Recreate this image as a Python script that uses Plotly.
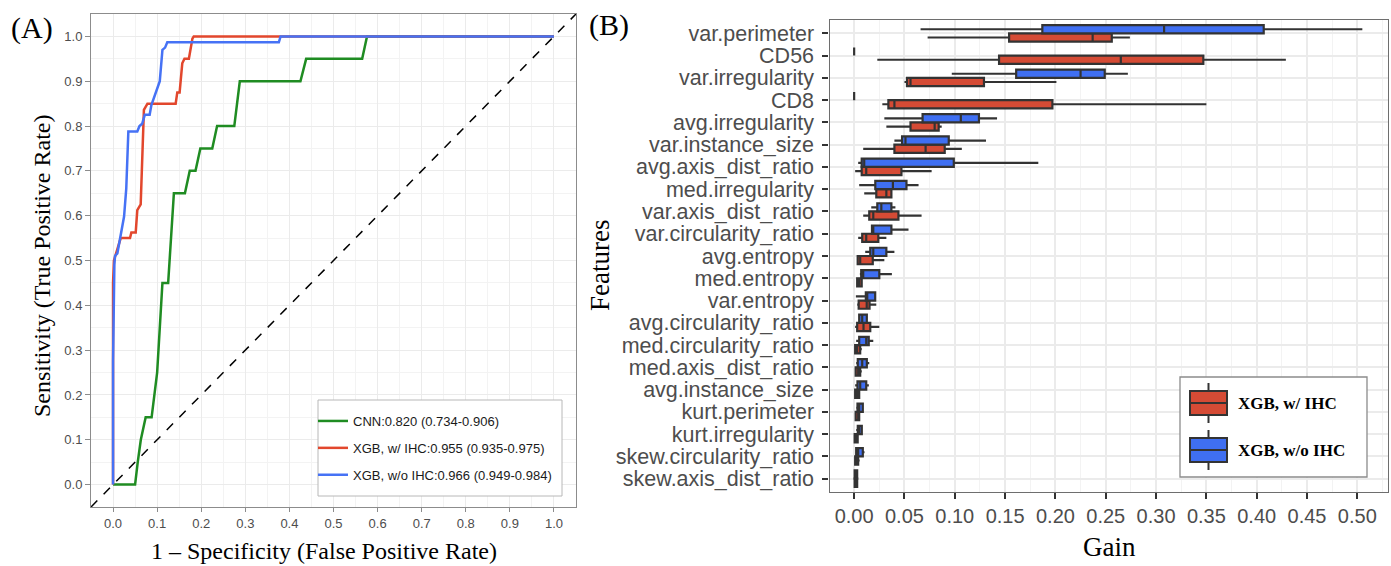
import plotly.graph_objects as go

W, H = 1391, 566

# ---------------- Panel A: ROC curves ----------------
diag = [-0.05, 1.05]

cnn_fpr = [0, 0.05, 0.056, 0.063, 0.074, 0.0875, 0.10, 0.112, 0.125, 0.138, 0.163, 0.174,
           0.187, 0.198, 0.225, 0.236, 0.275, 0.2875, 0.425, 0.438, 0.565, 0.576, 1.0]
cnn_tpr = [0, 0, 0.05, 0.10, 0.15, 0.15, 0.25, 0.45, 0.45, 0.65, 0.65, 0.70,
           0.70, 0.75, 0.75, 0.80, 0.80, 0.90, 0.90, 0.95, 0.95, 1.0, 1.0]

ihc_fpr = [0, 0, 0.002, 0.005, 0.0174, 0.0385, 0.0416, 0.0514, 0.055, 0.0627, 0.0665, 0.070,
           0.078, 0.142, 0.1457, 0.151, 0.157, 0.162, 0.172, 0.180, 0.183, 1.0]
ihc_tpr = [0, 0.45, 0.50, 0.51, 0.55, 0.55, 0.5625, 0.5625, 0.6125, 0.625, 0.75, 0.836,
           0.85, 0.85, 0.875, 0.875, 0.94, 0.95, 0.95, 0.995, 1.0, 1.0]

noihc_fpr = [0, 0, 0.003, 0.0045, 0.0098, 0.019, 0.025, 0.030, 0.0347, 0.055, 0.060, 0.066,
             0.072, 0.083, 0.087, 0.106, 0.112, 0.118, 0.123, 0.376, 0.380, 1.0]
noihc_tpr = [0, 0.275, 0.49, 0.51, 0.516, 0.564, 0.598, 0.661, 0.788, 0.788, 0.80, 0.805,
             0.825, 0.825, 0.847, 0.90, 0.97, 0.975, 0.987, 0.987, 1.0, 1.0]

roc_names = ["CNN:0.820 (0.734-0.906)",
             "XGB, w/ IHC:0.955 (0.935-0.975)",
             "XGB, w/o IHC:0.966 (0.949-0.984)"]

# ---------------- Panel B: feature gain boxplots ----------------
features = ["var.perimeter", "CD56", "var.irregularity", "CD8", "avg.irregularity",
            "var.instance_size", "avg.axis_dist_ratio", "med.irregularity",
            "var.axis_dist_ratio", "var.circularity_ratio", "avg.entropy", "med.entropy",
            "var.entropy", "avg.circularity_ratio", "med.circularity_ratio",
            "med.axis_dist_ratio", "avg.instance_size", "kurt.perimeter",
            "kurt.irregularity", "skew.circularity_ratio", "skew.axis_dist_ratio"]

# XGB, w/ IHC
ihc_low  = [0.073, 0.023, 0.050, 0.028, 0.032, 0.009, 0.001, 0.010, 0.009, 0.004, 0.003,
            0.002, 0.003, 0.001, 0.0003, 0.001, 0.001, 0.001, 0.0003, 0.0005, 0.0]
ihc_q1   = [0.154, 0.144, 0.0525, 0.034, 0.056, 0.040, 0.0075, 0.022, 0.015, 0.008, 0.0035,
            0.003, 0.0045, 0.003, 0.001, 0.0015, 0.001, 0.0015, 0.0005, 0.001, 0.0005]
ihc_med  = [0.237, 0.265, 0.056, 0.040, 0.080, 0.071, 0.012, 0.032, 0.019, 0.012, 0.006,
            0.005, 0.0125, 0.0093, 0.003, 0.004, 0.003, 0.004, 0.002, 0.002, 0.001]
ihc_q3   = [0.256, 0.347, 0.129, 0.197, 0.084, 0.090, 0.047, 0.037, 0.044, 0.024, 0.0185,
            0.0075, 0.0153, 0.016, 0.006, 0.006, 0.005, 0.005, 0.0035, 0.004, 0.003]
ihc_high = [0.274, 0.429, 0.201, 0.350, 0.087, 0.107, 0.077, 0.038, 0.067, 0.032, 0.030,
            0.0086, 0.022, 0.025, 0.0076, 0.0076, 0.006, 0.006, 0.0043, 0.0055, 0.0033]

# XGB, w/o IHC
noihc_low  = [0.066, 0.0, 0.097, 0.0, 0.030, 0.040, 0.004, 0.005, 0.017, 0.017, 0.011,
              0.0057, 0.0017, 0.004, 0.002, 0.002, 0.001, 0.002, 0.002, 0.001, 0.0]
noihc_q1   = [0.187, 0.0, 0.161, 0.0, 0.068, 0.0476, 0.0075, 0.021, 0.023, 0.0177, 0.016,
              0.007, 0.0116, 0.005, 0.005, 0.0036, 0.0033, 0.0033, 0.0036, 0.002, 0.0005]
noihc_med  = [0.308, 0.0, 0.225, 0.0, 0.106, 0.051, 0.010, 0.0385, 0.027, 0.019, 0.019,
              0.009, 0.013, 0.008, 0.012, 0.008, 0.006, 0.005, 0.005, 0.004, 0.001]
noihc_q3   = [0.407, 0.0, 0.249, 0.0, 0.124, 0.094, 0.099, 0.052, 0.037, 0.037, 0.032,
              0.025, 0.0209, 0.0126, 0.0145, 0.0126, 0.012, 0.0086, 0.0076, 0.0086, 0.003]
noihc_high = [0.505, 0.0, 0.272, 0.0, 0.142, 0.131, 0.183, 0.064, 0.041, 0.054, 0.040,
              0.0375, 0.022, 0.013, 0.019, 0.015, 0.0146, 0.0095, 0.008, 0.0103, 0.0033]

box_names = ["XGB, w/ IHC", "XGB, w/o IHC"]

# ---------------- styling ----------------
GREEN = "#1f8c22"
RED_L = "#e2472d"
BLUE_L = "#4672f5"
RED_F = "#d54b35"
BLUE_F = "#3f6ff2"
EDGE = "#333333"
SANS = "Liberation Sans"
SERIF = "Liberation Serif"
TICK_C = "#4d4d4d"


def pxx(x):
    return x / W


def pyy(y):
    return 1 - y / H


fig = go.Figure()

fig.add_trace(go.Scatter(x=diag, y=diag, mode="lines", showlegend=False, hoverinfo="skip",
                         line=dict(color="black", dash="dash", width=1.5),
                         xaxis="x", yaxis="y"))
for nm, xs, ys, col in [(roc_names[0], cnn_fpr, cnn_tpr, GREEN),
                        (roc_names[1], ihc_fpr, ihc_tpr, RED_L),
                        (roc_names[2], noihc_fpr, noihc_tpr, BLUE_L)]:
    fig.add_trace(go.Scatter(x=xs, y=ys, mode="lines", name=nm, legendgroup=nm,
                             line=dict(color=col, width=2.5, shape="linear"),
                             xaxis="x", yaxis="y"))

for nm, lo, q1, md, q3, hi, fc in [(box_names[0], ihc_low, ihc_q1, ihc_med, ihc_q3, ihc_high, RED_F),
                                   (box_names[1], noihc_low, noihc_q1, noihc_med, noihc_q3, noihc_high, BLUE_F)]:
    fig.add_trace(go.Box(y=features, q1=q1, median=md, q3=q3, lowerfence=lo, upperfence=hi,
                         orientation="h", name=nm, fillcolor=fc,
                         line=dict(color=EDGE, width=2.2), whiskerwidth=0,
                         boxpoints=False, showlegend=False, hoverinfo="x",
                         xaxis="x2", yaxis="y2"))

grid_c = "#ebebeb"
minor_c = "#f3f3f3"

fig.update_layout(
    template="none",
    width=W, height=H, autosize=False,
    margin=dict(l=0, r=0, t=0, b=0, autoexpand=False),
    paper_bgcolor="white", plot_bgcolor="white",
    boxmode="group", boxgap=0.26, boxgroupgap=0.0,
    xaxis=dict(domain=[pxx(91), pxx(576)], range=[-0.05, 1.05], anchor="y", automargin=False,
               tickmode="array", tickvals=[i / 10 for i in range(11)],
               ticktext=[f"{i / 10:.1f}" for i in range(11)],
               showgrid=True, gridcolor=grid_c, gridwidth=1,
               minor=dict(tickvals=[i / 20 for i in range(-1, 22, 2)], showgrid=True,
                          gridcolor=minor_c, gridwidth=1, ticks=""),
               zeroline=False, showline=True, mirror=True, linecolor="#8c8c8c", linewidth=1,
               ticks="outside", ticklen=4, tickcolor="#8c8c8c",
               tickfont=dict(family=SANS, size=13, color=TICK_C)),
    yaxis=dict(domain=[pyy(507), pyy(14)], range=[-0.05, 1.05], anchor="x", automargin=False,
               tickmode="array", tickvals=[i / 10 for i in range(11)],
               ticktext=[f"{i / 10:.1f}" for i in range(11)],
               showgrid=True, gridcolor=grid_c, gridwidth=1,
               minor=dict(tickvals=[i / 20 for i in range(-1, 22, 2)], showgrid=True,
                          gridcolor=minor_c, gridwidth=1, ticks=""),
               zeroline=False, showline=True, mirror=True, linecolor="#8c8c8c", linewidth=1,
               ticks="outside", ticklen=5, tickcolor="#8c8c8c",
               tickfont=dict(family=SANS, size=13, color=TICK_C)),
    xaxis2=dict(domain=[pxx(829.5), pxx(1387.5)], range=[-0.0245, 0.5300], anchor="y2",
                automargin=False,
                tickmode="array", tickvals=[i * 0.05 for i in range(11)],
                ticktext=[f"{i * 0.05:.2f}" for i in range(11)],
                showgrid=True, gridcolor=grid_c, gridwidth=1.6,
                minor=dict(tickvals=[0.025 + i * 0.05 for i in range(11)], showgrid=True,
                           gridcolor=minor_c, gridwidth=1.2, ticks=""),
                zeroline=False, showline=True, mirror=True, linecolor="#6e6e6e", linewidth=1.3,
                ticks="outside", ticklen=6, tickcolor="#333333", tickwidth=1.5,
                tickfont=dict(family=SANS, size=20, color=TICK_C)),
    yaxis2=dict(domain=[pyy(492), pyy(20)], range=[-0.6, len(features) - 0.4], anchor="x2",
                automargin=False,
                type="category", categoryorder="array", categoryarray=features[::-1],
                tickmode="array", tickvals=features, ticktext=features,
                showgrid=True, gridcolor=grid_c, gridwidth=1.6,
                zeroline=False, showline=True, mirror=True, linecolor="#6e6e6e", linewidth=1.3,
                ticks="outside", ticklen=6, tickcolor="#333333", tickwidth=1.5,
                ticklabelstandoff=4,
                tickfont=dict(family=SANS, size=21.5, color=TICK_C)),
    legend=dict(x=pxx(313), xanchor="left", y=pyy(406), yanchor="top",
                bgcolor="rgba(0,0,0,0)", borderwidth=0,
                traceorder="grouped", tracegroupgap=7,
                font=dict(family=SANS, size=13, color="#1a1a1a"),
                itemwidth=30),
    showlegend=True,
)

annotations = [
    dict(text="(A)", x=pxx(32), y=pyy(28), font=dict(family=SERIF, size=30, color="black")),
    dict(text="(B)", x=pxx(609), y=pyy(25), font=dict(family=SERIF, size=30, color="black")),
    dict(text="1 – Specificity (False Positive Rate)", x=pxx(324), y=pyy(551),
         font=dict(family=SERIF, size=24, color="black")),
    dict(text="Sensitivity (True Positive Rate)", x=pxx(42), y=pyy(266), textangle=-90,
         font=dict(family=SERIF, size=24, color="black")),
    dict(text="Features", x=pxx(600), y=pyy(266), textangle=-90,
         font=dict(family=SERIF, size=27, color="black")),
    dict(text="Gain", x=pxx(1109), y=pyy(547),
         font=dict(family=SERIF, size=27, color="black")),
    dict(text="<b>" + box_names[0] + "</b>", x=pxx(1236), y=pyy(403), xanchor="left",
         font=dict(family=SERIF, size=17, color="black")),
    dict(text="<b>" + box_names[1] + "</b>", x=pxx(1236), y=pyy(450), xanchor="left",
         font=dict(family=SERIF, size=17, color="black")),
]
for a in annotations:
    a.setdefault("xanchor", "center")
    a.update(xref="paper", yref="paper", yanchor="middle", showarrow=False)
fig.update_layout(annotations=annotations)

# legend frames and custom legend keys for panel B (ggplot-style box keys)
shapes = [dict(type="rect", x0=pxx(318), x1=pxx(562), y0=pyy(496), y1=pyy(400),
               fillcolor="white", line=dict(color="#b8b8b8", width=1)),
          dict(type="rect", x0=pxx(1180), x1=pxx(1367), y0=pyy(477), y1=pyy(377),
               fillcolor="white", line=dict(color="#8c8c8c", width=1.3))]
for cy, fc in [(403, RED_F), (450, BLUE_F)]:
    shapes.append(dict(type="line", x0=pxx(1208.5), x1=pxx(1208.5), y0=pyy(cy - 20), y1=pyy(cy + 20),
                       line=dict(color=EDGE, width=2)))
    shapes.append(dict(type="rect", x0=pxx(1190), x1=pxx(1227), y0=pyy(cy + 12), y1=pyy(cy - 12),
                       fillcolor=fc, line=dict(color=EDGE, width=2)))
    shapes.append(dict(type="line", x0=pxx(1190), x1=pxx(1227), y0=pyy(cy), y1=pyy(cy),
                       line=dict(color=EDGE, width=2)))
for s in shapes:
    s.update(xref="paper", yref="paper", layer="above")
fig.update_layout(shapes=shapes)

fig.write_html("out.html", config={"displayModeBar": False},
               post_script="document.body.style.margin='0px';")
